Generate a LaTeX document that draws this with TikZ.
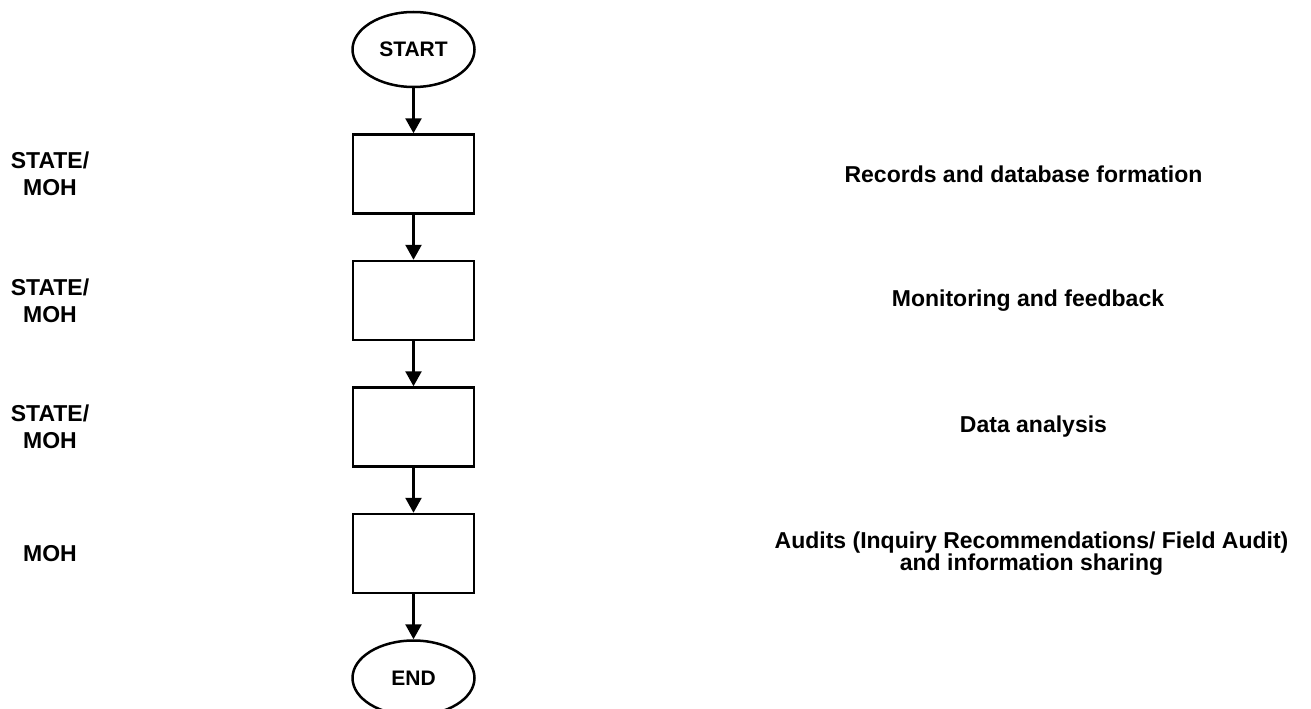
\documentclass[tikz,border=0pt]{standalone}
\usepackage{fontspec}
\setmainfont{Liberation Sans}
\usepackage{tikz}
\usetikzlibrary{shapes.geometric,arrows.meta,positioning}

\begin{document}
\begin{tikzpicture}[node distance=45pt, auto,
    terminal/.style={ellipse, draw, line width=2.5pt, minimum width=122pt, minimum height=75pt,
        inner sep=0pt, font=\fontsize{21}{24}\selectfont\bfseries},
    stage/.style={rectangle, draw, line width=2.5pt, minimum width=121pt, minimum height=79pt},
    who/.style={align=center, font=\fontsize{23}{27}\selectfont\bfseries},
    task/.style={align=center, font=\fontsize{23}{22}\selectfont\bfseries},
    arrow/.style={-{Triangle[width=16pt,length=15pt]}, line width=2.5pt}]

    \useasboundingbox (0,0) rectangle (1311pt,-709pt);

    \node[terminal] (start) at (413.5pt,-49.5pt) {START};
    \node[stage, below=of start] (rec) {};
    \node[stage, below=of rec] (mon) {};
    \node[stage, below=of mon] (ana) {};
    \node[stage, below=of ana] (aud) {};
    \node[terminal, below=of aud] (stop) {END};

    \draw[arrow] (start) -- (rec);
    \draw[arrow] (rec) -- (mon);
    \draw[arrow] (mon) -- (ana);
    \draw[arrow] (ana) -- (aud);
    \draw[arrow] (aud) -- (stop);

    % who is responsible
    \node[who] (who1) at ([xshift=-363.5pt]rec.center) {STATE/\\MOH};
    \node[who] (who2) at ([xshift=-363.5pt]mon.center) {STATE/\\MOH};
    \node[who] (who3) at ([xshift=-363.5pt]ana.center) {STATE/\\MOH};
    \node[who] (who4) at ([xshift=-363.5pt]aud.center) {MOH};

    % what is done
    \node[task] (task1) at ([xshift=610pt]rec.center) {Records and database formation};
    \node[task] (task2) at ([xshift=614.5pt]mon.center) {Monitoring and feedback};
    \node[task] (task3) at ([xshift=620pt]ana.center) {Data analysis};
    \node[task] (task4) at ([xshift=618pt]aud.center) {Audits (Inquiry Recommendations/ Field Audit)\\and information sharing};
\end{tikzpicture}
\end{document}
